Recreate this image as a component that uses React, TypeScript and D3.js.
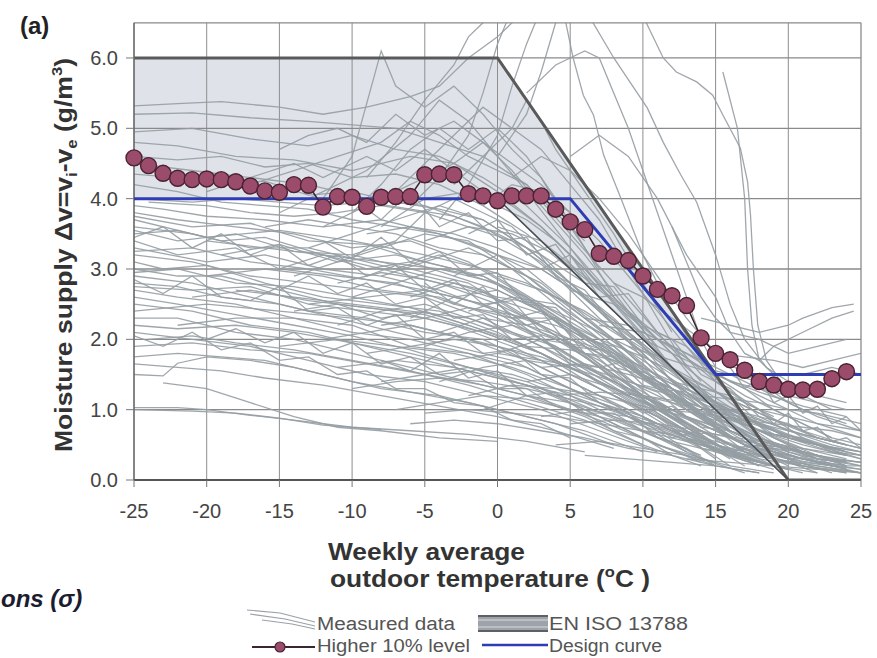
import React from 'react';
import * as d3 from 'd3';

const WIDTH = 877;
const HEIGHT = 658;

const X_TICKS = [-25, -20, -15, -10, -5, 0, 5, 10, 15, 20, 25];
const Y_TICKS = [0, 1, 2, 3, 4, 5, 6];
const Y_TICK_LABELS = ['0.0', '1.0', '2.0', '3.0', '4.0', '5.0', '6.0'];

// Higher 10 % level of the measured moisture supply, per 1 °C bin
const levelTemps = [
  -25, -24, -23, -22, -21, -20, -19, -18, -17, -16, -15, -14, -13, -12, -11, -10, -9, -8, -7, -6,
  -5, -4, -3, -2, -1, 0, 1, 2, 3, 4, 5, 6, 7, 8, 9, 10, 11, 12, 13, 14, 15, 16, 17, 18, 19, 20,
  21, 22, 23, 24,
];
const levelValues = [
  4.58, 4.47, 4.36, 4.29, 4.27, 4.28, 4.27, 4.24, 4.18, 4.11, 4.09, 4.2, 4.19, 3.88, 4.03, 4.02,
  3.89, 4.02, 4.03, 4.03, 4.34, 4.35, 4.34, 4.07, 4.04, 3.97, 4.04, 4.04, 4.04, 3.85, 3.67, 3.56,
  3.22, 3.18, 3.12, 2.9, 2.71, 2.62, 2.48, 2.02, 1.8, 1.71, 1.56, 1.4, 1.35, 1.29, 1.28, 1.29,
  1.44, 1.54,
];

// Design curve
const designTemps = [-25, 5, 15, 25];
const designValues = [4, 4, 1.5, 1.5];

// EN ISO 13788 humidity classes (upper and lower limits of the band)
const isoTemps = [-25, 0, 20, 25];
const isoUpper = [6, 6, 0, 0];
const isoLower = [4, 4, 0, 0];

// Measured weekly data, each row: temperature, moisture supply, temperature, moisture supply, ...
const measured: number[][] = [
  [-25, 3.8, -22, 3.7, -18, 3.6, -14, 3.5, -10, 3.3, -6, 3.4, -2, 3.1, 2, 2.6, 6, 1.9, 10, 1.2, 14, 0.6, 17, 0.3],
  [-25, 3.6, -21, 3.5, -17, 3.3, -13, 3.3, -9, 3.1, -5, 2.9, -1, 2.7, 3, 2.2, 7, 1.6, 11, 1.0, 15, 0.5],
  [-25, 3.4, -22, 3.2, -18, 3.3, -15, 3.0, -11, 2.9, -7, 2.8, -3, 2.5, 1, 2.3, 5, 1.7, 9, 1.2, 13, 0.7, 17, 0.2],
  [-25, 3.2, -21, 3.1, -17, 2.9, -13, 2.8, -9, 2.7, -5, 2.6, -1, 2.3, 3, 1.9, 7, 1.4, 11, 0.9, 15, 0.3],
  [-25, 3.0, -22, 2.9, -19, 2.9, -15, 2.7, -11, 2.5, -7, 2.4, -3, 2.2, 1, 1.9, 5, 1.5, 9, 1.1, 13, 0.6, 16, 0.2],
  [-25, 2.9, -21, 2.8, -17, 2.6, -13, 2.4, -9, 2.3, -5, 2.1, -1, 2.0, 3, 1.6, 7, 1.2, 11, 0.7, 14, 0.3],
  [-25, 2.7, -22, 2.6, -18, 2.5, -14, 2.3, -10, 2.2, -6, 1.9, -2, 1.8, 2, 1.5, 6, 1.1, 10, 0.7, 14, 0.3, 17, 0.1],
  [-25, 2.5, -21, 2.4, -17, 2.2, -13, 2.1, -9, 1.9, -5, 1.7, -1, 1.5, 3, 1.3, 7, 0.9, 11, 0.5, 15, 0.2],
  [-25, 2.3, -22, 2.3, -18, 2.1, -14, 2.0, -10, 1.8, -6, 1.6, -2, 1.4, 2, 1.2, 6, 0.9, 10, 0.5, 14, 0.2],
  [-25, 2.1, -21, 2.0, -17, 1.9, -13, 1.7, -9, 1.5, -5, 1.4, -1, 1.2, 3, 1.0, 7, 0.7, 11, 0.4],
  [-25, 1.75, -22, 1.8, -19, 1.75, -16, 1.7, -13, 1.55, -10, 1.4, -6, 1.25, -2, 1.1, 2, 0.9, 6, 0.7, 10, 0.4],
  [-25, 1.5, -23, 1.48, -22, 1.66, -20, 1.75, -17, 1.7, -14, 1.6, -11, 1.45, -8, 1.3, -4, 1.2, 0, 1.0, 4, 0.8, 8, 0.5],
  [-25, 1.03, -22, 1.03, -20, 1.0, -17, 0.92, -14, 0.85, -10, 0.75, -6, 0.7, -2, 0.65, 2, 0.55, 6, 0.4],
  [-25, 1.0, -21, 0.98, -18, 0.95, -15, 0.88, -12, 0.78, -8, 0.72],
  [-23, 1.38, -20, 1.3, -17, 1.1, -14, 0.9, -11, 0.75, -8, 0.7, -4, 0.6, 0, 0.55],
  [-25, 3.9, -23, 3.85, -20, 3.75, -16, 3.7, -12, 3.6, -8, 3.7, -4, 3.5, 0, 3.2, 4, 2.6, 8, 2.0, 12, 1.3, 16, 0.6],
  [-25, 3.5, -22, 3.55, -19, 3.4, -16, 3.45, -12, 3.2, -8, 3.0, -4, 2.8, 0, 2.5, 4, 2.1, 8, 1.5, 12, 0.9, 16, 0.4],
  [-25, 3.1, -23, 3.0, -20, 3.05, -16, 2.8, -12, 2.6, -8, 2.5, -4, 2.4, 0, 2.1, 4, 1.7, 8, 1.3, 12, 0.8, 16, 0.3],
  [-25, 2.8, -22, 2.75, -19, 2.6, -15, 2.5, -11, 2.3, -7, 2.1, -3, 1.9, 1, 1.7, 5, 1.3, 9, 0.9, 13, 0.4],
  [-25, 2.6, -22, 2.5, -18, 2.35, -14, 2.2, -10, 2.05, -6, 1.85, -2, 1.6, 2, 1.35, 6, 1.0, 10, 0.6, 14, 0.25],
  [-24, 2.0, -21, 2.05, -18, 1.95, -14, 1.85, -10, 1.7, -6, 1.55, -2, 1.35, 2, 1.1, 6, 0.85, 10, 0.5],
  [-25, 4.2, -22, 4.1, -19, 3.95, -16, 3.9, -13, 3.85, -10, 3.7, -7, 3.6, -4, 3.5, -1, 3.3, 2, 3.0, 5, 2.5, 8, 2.0, 11, 1.4, 14, 0.9, 17, 0.4],
  [-25, 4.5, -21, 4.4, -17, 4.3, -13, 4.2, -9, 4.0, -5, 3.9, -1, 3.6, 3, 3.1, 7, 2.4, 11, 1.6, 15, 0.9],
  [-25, 4.8, -22, 4.75, -18, 4.6, -14, 4.55, -10, 4.4, -6, 4.6, -3, 4.5, 0, 4.1, 3, 3.6, 6, 3.0, 9, 2.3, 12, 1.6, 15, 1.0],
  [-25, 5.32, -22, 5.35, -19, 5.38, -15, 5.3, -12, 5.2, -9, 5.3, -6, 5.45, -4, 5.6, -2, 6.0, 0, 6.3, 2, 6.7],
  [-25, 5.2, -21, 5.22, -17, 5.15, -13, 5.1, -10, 5.05, -7, 5.0, -4, 4.8, -1, 4.6, 2, 4.2, 5, 3.5, 8, 2.8, 11, 2.1, 14, 1.4],
  [-15, 3.8, -12, 4.1, -9, 4.4, -6, 4.9, -4, 5.4, -2, 5.1, 0, 4.6, 2, 4.1, 5, 3.3, 8, 2.5, 11, 1.8, 14, 1.1, 17, 0.6, 20, 0.3],
  [-12, 3.6, -9, 3.9, -6, 4.2, -3, 4.5, -1, 4.8, 1, 4.4, 3, 3.9, 6, 3.2, 9, 2.4, 12, 1.6, 15, 1.0, 18, 0.5, 21, 0.2],
  [-14, 2.9, -11, 3.1, -8, 3.3, -5, 3.5, -2, 3.4, 1, 3.0, 4, 2.5, 7, 2.0, 10, 1.5, 13, 1.0, 16, 0.6, 19, 0.3],
  [-10, 2.6, -7, 2.8, -4, 3.0, -1, 2.9, 2, 2.6, 5, 2.2, 8, 1.8, 11, 1.3, 14, 0.9, 17, 0.5, 20, 0.3, 23, 0.1],
  [-11, 2.2, -8, 2.4, -5, 2.5, -2, 2.3, 1, 2.1, 4, 1.9, 7, 1.5, 10, 1.2, 13, 0.8, 16, 0.5, 19, 0.3, 22, 0.15],
  [-9, 1.8, -6, 1.9, -3, 2.0, 0, 1.9, 3, 1.7, 6, 1.4, 9, 1.1, 12, 0.8, 15, 0.5, 18, 0.3, 21, 0.2, 24, 0.1],
  [-8, 1.4, -5, 1.5, -2, 1.6, 1, 1.5, 4, 1.3, 7, 1.1, 10, 0.9, 13, 0.6, 16, 0.4, 19, 0.2, 22, 0.1],
  [-7, 1.0, -4, 1.1, -1, 1.2, 2, 1.15, 5, 1.0, 8, 0.85, 11, 0.6, 14, 0.45, 17, 0.3, 20, 0.15],
  [-6, 0.8, -3, 0.85, 0, 0.8, 3, 0.7, 6, 0.6, 9, 0.45, 12, 0.35, 15, 0.2, 18, 0.1],
  [-13, 3.3, -10, 3.5, -7, 3.7, -4, 3.9, -1, 3.7, 2, 3.3, 5, 2.8, 8, 2.3, 11, 1.7, 14, 1.2, 17, 0.8, 20, 0.4, 23, 0.2],
  [-10, 3.2, -7, 3.4, -5, 3.8, -3, 4.0, -1, 3.8, 1, 3.6, 4, 3.0, 7, 2.4, 10, 1.9, 13, 1.4, 16, 0.9, 19, 0.5, 22, 0.3, 25, 0.2],
  [-8, 2.9, -5, 3.1, -2, 3.3, 0, 3.1, 3, 2.8, 6, 2.3, 9, 1.8, 12, 1.3, 15, 0.9, 18, 0.6, 21, 0.4, 24, 0.25],
  [-6, 2.3, -3, 2.6, 0, 2.7, 3, 2.4, 6, 2.0, 9, 1.6, 12, 1.2, 15, 0.8, 18, 0.5, 21, 0.3, 24, 0.2],
  [-5, 1.9, -2, 2.1, 1, 2.2, 4, 2.0, 7, 1.7, 10, 1.3, 13, 1.0, 16, 0.7, 19, 0.4, 22, 0.25, 25, 0.15],
  [-12, 4.0, -10, 4.6, -8, 6.1, -7, 5.6, -5, 5.3, -3, 5.6, -1, 5.2, 1, 4.7, 3, 4.3, 5, 3.6, 7, 3.0],
  [-9, 4.3, -7, 4.8, -5, 5.4, -3, 5.9, -2, 6.3, -1, 6.5, 0, 6.7],
  [-6, 3.9, -4, 4.3, -2, 4.9, -1, 5.5, 0, 6.2, 1, 6.7],
  [-4, 3.7, -2, 4.2, 0, 4.9, 1, 5.6, 2, 6.2, 3, 6.7],
  [-10, 3.8, -8, 4.2, -6, 4.7, -4, 5.0, -2, 4.7, 0, 5.0, 2, 4.6, 4, 4.0, 6, 3.3, 8, 2.6],
  [-7, 4.1, -5, 4.5, -3, 4.9, -1, 5.3, 1, 5.0, 3, 4.7, 5, 4.2, 7, 3.7, 9, 3.0, 11, 2.3, 13, 1.6],
  [0, 4.6, 2, 5.2, 3, 5.8, 4, 6.5, 4.5, 6.7],
  [4.5, 6.7, 5.2, 6.0, 5.9, 5.47, 6.6, 5.19, 7.3, 4.62, 8.5, 4.0, 10, 3.2, 12, 2.4, 14, 1.7, 16, 1.2, 18, 0.8, 20, 0.6],
  [6, 6.7, 8, 6.0, 9.1, 5.66, 10.3, 5.29, 11.4, 4.8, 12.6, 4.34, 13.7, 3.95, 15, 3.2, 16, 2.5, 17, 2.0, 18.5, 1.6, 20, 1.4, 22, 1.2],
  [10, 6.6, 11.4, 6.0, 12.3, 5.8, 13.7, 5.66, 14.8, 5.47, 15.5, 5.19, 16.7, 4.72, 17.2, 4.24, 17.4, 3.77, 17.6, 3.0, 17.9, 2.2, 18.5, 1.7, 19.5, 1.4, 21, 1.2, 23, 1.0],
  [2, 5.5, 4, 5.9, 6, 6.1, 7, 6.0, 8, 5.5, 9, 5.0, 10, 4.4, 11, 3.8, 12, 3.2, 13, 2.6, 14, 2.0, 15, 1.6],
  [5, 4.6, 7, 4.9, 9, 4.6, 11, 4.0, 13, 3.2, 15, 2.6, 16, 2.1, 17, 1.8, 18, 1.7, 19, 1.9, 21, 2.1, 23, 2.3, 24.5, 2.4],
  [12, 3.6, 13, 3.1, 14, 2.6, 15, 2.3, 16, 2.1, 18, 2.0, 20, 1.8, 22, 1.9, 24, 2.0],
  [14, 2.3, 16, 2.2, 18, 2.1, 20, 2.2, 21, 2.3, 23, 2.45, 24.5, 2.5],
  [15.5, 5.8, 16.5, 5.0, 17, 4.0, 17.2, 3.0, 17.5, 2.2, 18, 1.7, 19, 1.5, 21, 1.5, 23, 1.6, 25, 1.5],
  [10, 2.0, 12, 1.8, 14, 1.6, 16, 1.5, 18, 1.4, 20, 1.3, 22, 1.2, 24, 1.1],
  [12, 1.4, 14, 1.3, 16, 1.2, 18, 1.0, 20, 0.9, 22, 0.8, 25, 0.7],
  [8, 1.6, 10, 1.5, 12, 1.3, 14, 1.1, 16, 0.9, 18, 0.7, 20, 0.6, 22, 0.5, 25, 0.4],
  [15, 1.8, 17, 1.75, 19, 1.7, 21, 1.6, 23, 1.7, 25, 1.8],
  [16, 1.0, 18, 0.9, 20, 0.8, 22, 0.6, 24, 0.5],
  [18, 0.7, 20, 0.6, 22, 0.5, 24, 0.35],
  [-25, 3.3, -20, 3.1, -16, 3.2, -12, 3.0, -8, 2.9, -4, 2.7, 0, 2.4, 4, 2.0, 8, 1.5, 12, 1.0, 16, 0.5, 19, 0.2],
  [-25, 2.4, -20, 2.5, -15, 2.4, -10, 2.3, -6, 2.2, -2, 2.0, 2, 1.7, 6, 1.3, 10, 0.9, 14, 0.5, 18, 0.2],
  [-20, 3.4, -16, 3.3, -12, 3.2, -8, 3.1, -4, 3.0, 0, 2.8, 4, 2.3, 8, 1.8, 12, 1.2, 16, 0.7, 20, 0.3],
  [-18, 2.7, -14, 2.6, -10, 2.5, -6, 2.4, -2, 2.3, 2, 2.0, 6, 1.6, 10, 1.2, 14, 0.8, 18, 0.4, 22, 0.1],
  [-22, 2.2, -18, 2.3, -14, 2.3, -10, 2.1, -6, 2.0, -2, 1.8, 2, 1.6, 6, 1.2, 10, 0.8, 14, 0.5, 18, 0.25],
  [-15, 1.9, -11, 2.0, -7, 1.9, -3, 1.8, 1, 1.6, 5, 1.3, 9, 1.0, 13, 0.6, 17, 0.3, 21, 0.1],
  [-25, 3.7, -20, 3.45, -15, 3.55, -10, 3.4, -5, 3.2, -1, 3.0, 3, 2.5, 7, 2.0, 11, 1.4, 15, 0.8, 19, 0.3],
  [-5, 3.4, -2, 3.6, 1, 3.5, 4, 3.2, 7, 2.7, 10, 2.2, 13, 1.6, 16, 1.1, 19, 0.6, 22, 0.3],
  [-3, 2.9, 0, 3.2, 3, 3.0, 6, 2.6, 9, 2.1, 12, 1.6, 15, 1.1, 18, 0.7, 21, 0.4, 24, 0.2],
  [-2, 2.4, 1, 2.6, 4, 2.5, 7, 2.1, 10, 1.7, 13, 1.3, 16, 0.9, 19, 0.6, 22, 0.35, 25, 0.2],
  [0, 1.8, 3, 2.0, 6, 1.9, 9, 1.6, 12, 1.3, 15, 0.9, 18, 0.6, 21, 0.4, 24, 0.25],
  [2, 1.4, 5, 1.5, 8, 1.3, 11, 1.1, 14, 0.8, 17, 0.5, 20, 0.35, 23, 0.2],
  [3, 0.9, 6, 1.0, 9, 0.9, 12, 0.7, 15, 0.5, 18, 0.35, 21, 0.2, 24, 0.1],
  [-4, 1.4, -1, 1.6, 2, 1.7, 5, 1.6, 8, 1.4, 11, 1.1, 14, 0.8, 17, 0.5, 20, 0.3],
  [-20, 2.9, -16, 3.0, -12, 2.9, -8, 2.7, -4, 2.6, 0, 2.3, 4, 1.9, 8, 1.4, 12, 0.9, 16, 0.5],
  [-16, 3.6, -13, 3.7, -10, 3.6, -7, 3.5, -4, 3.3, -1, 3.2, 2, 2.9, 5, 2.4, 8, 1.9, 11, 1.4, 14, 0.9, 17, 0.5, 20, 0.2],
  [-19, 3.2, -15, 3.35, -11, 3.1, -7, 3.2, -3, 3.0, 1, 2.7, 5, 2.2, 9, 1.6, 13, 1.0, 17, 0.5],
  [-13, 2.5, -9, 2.6, -5, 2.7, -1, 2.5, 3, 2.2, 7, 1.8, 11, 1.3, 15, 0.8, 19, 0.4, 23, 0.2],
  [-21, 2.6, -17, 2.7, -13, 2.55, -9, 2.45, -5, 2.35, -1, 2.1, 3, 1.8, 7, 1.4, 11, 1.0, 15, 0.6, 19, 0.3],
  [-11, 1.6, -7, 1.7, -3, 1.6, 1, 1.4, 5, 1.2, 9, 0.9, 13, 0.6, 17, 0.4, 21, 0.2, 25, 0.1],
  [-24, 3.95, -20, 3.9, -17, 3.8, -14, 3.75, -11, 3.8, -8, 3.9, -5, 3.8, -2, 3.6, 1, 3.4, 4, 2.9, 7, 2.3, 10, 1.8, 13, 1.2, 16, 0.7],
  [-8, 3.6, -5, 4.0, -2, 4.1, 0, 3.9, 2, 3.7, 4, 3.4, 6, 3.0, 8, 2.6, 10, 2.2, 12, 1.8, 14, 1.3, 16, 0.9, 18, 0.6, 20, 0.4],
  [0, 3.6, 3, 3.4, 6, 2.9, 9, 2.4, 12, 1.9, 15, 1.4, 18, 1.0, 21, 0.6, 24, 0.4],
  [5, 2.7, 8, 2.5, 11, 2.0, 14, 1.6, 17, 1.2, 20, 0.9, 23, 0.6, 25, 0.5],
  [7, 2.2, 10, 2.1, 13, 1.8, 16, 1.4, 19, 1.1, 22, 0.8, 25, 0.6],
  [10, 1.2, 13, 1.1, 16, 0.9, 19, 0.7, 22, 0.5, 25, 0.3],
  [-1, 1.0, 2, 1.2, 5, 1.1, 8, 0.9, 11, 0.7, 14, 0.5, 17, 0.3, 20, 0.15],
  [4, 0.5, 7, 0.55, 10, 0.45, 13, 0.35, 16, 0.2, 19, 0.1],
  [-25, 4.0, -21, 3.95, -18, 4.0, -15, 3.95, -12, 3.9, -9, 3.95, -6, 3.85, -3, 3.75, 0, 3.5, 3, 3.2, 6, 2.8, 9, 2.2, 12, 1.6, 15, 1.0],
  [-17, 4.2, -14, 4.4, -11, 4.6, -8, 4.8, -6, 5.1, -4, 4.9, -2, 4.6, 0, 4.4, 2, 4.2, 4, 3.8, 6, 3.4],
  [-25, 3.75, -21, 3.6, -17, 3.65, -13, 3.4, -9, 3.35, -5, 3.1, -1, 2.9, 3, 2.4, 7, 1.8, 11, 1.1, 15, 0.5, 18, 0.2],
  [-25, 3.55, -22, 3.4, -18, 3.5, -14, 3.25, -10, 3.2, -6, 3.0, -2, 2.8, 2, 2.3, 6, 1.8, 10, 1.2, 14, 0.7, 18, 0.3],
  [-25, 3.25, -21, 3.3, -17, 3.1, -13, 3.0, -9, 2.85, -5, 2.7, -1, 2.5, 3, 2.0, 7, 1.5, 11, 1.0, 15, 0.5, 19, 0.2],
  [-25, 2.95, -22, 3.0, -18, 2.8, -14, 2.75, -10, 2.6, -6, 2.45, -2, 2.2, 2, 1.9, 6, 1.5, 10, 1.0, 14, 0.6, 18, 0.25],
  [-25, 2.75, -21, 2.7, -17, 2.75, -13, 2.5, -9, 2.4, -5, 2.3, -1, 2.1, 3, 1.8, 7, 1.3, 11, 0.9, 15, 0.4, 19, 0.15],
  [-25, 2.2, -22, 2.15, -18, 2.2, -14, 2.1, -10, 1.95, -6, 1.8, -2, 1.6, 2, 1.4, 6, 1.05, 10, 0.7, 14, 0.35],
  [-25, 1.9, -21, 1.95, -17, 1.85, -13, 1.8, -9, 1.65, -5, 1.5, -1, 1.35, 3, 1.15, 7, 0.85, 11, 0.5, 15, 0.25],
  [-25, 1.65, -22, 1.6, -19, 1.55, -16, 1.45, -12, 1.35, -8, 1.2, -4, 1.05, 0, 0.9, 4, 0.7, 8, 0.45],
  [-25, 4.35, -22, 4.3, -19, 4.2, -16, 4.25, -13, 4.05, -10, 4.1, -7, 3.95, -4, 3.85, -1, 3.7, 2, 3.3, 5, 2.8, 8, 2.2, 11, 1.5, 14, 0.9],
  [-25, 4.6, -22, 4.55, -19, 4.6, -16, 4.45, -13, 4.5, -10, 4.3, -7, 4.35, -4, 4.2, -1, 3.9, 2, 3.5, 5, 3.0, 8, 2.4],
  [-25, 4.95, -21, 5.0, -17, 4.85, -13, 4.75, -10, 4.9, -7, 4.7, -4, 4.6, -1, 4.3, 2, 3.9, 5, 3.3, 8, 2.6, 11, 1.9],
  [-15, 3.0, -12, 3.2, -9, 3.0, -6, 3.1, -3, 2.9, 0, 2.7, 3, 2.4, 6, 2.0, 9, 1.6, 12, 1.2, 15, 0.8, 18, 0.5, 21, 0.3, 24, 0.15],
  [-14, 2.4, -11, 2.5, -8, 2.3, -5, 2.4, -2, 2.2, 1, 2.0, 4, 1.7, 7, 1.4, 10, 1.1, 13, 0.8, 16, 0.5, 19, 0.3, 22, 0.2, 25, 0.1],
  [-12, 2.0, -9, 2.1, -6, 2.2, -3, 2.05, 0, 1.9, 3, 1.75, 6, 1.5, 9, 1.2, 12, 0.95, 15, 0.7, 18, 0.45, 21, 0.3, 24, 0.2],
  [-10, 1.3, -7, 1.4, -4, 1.45, -1, 1.4, 2, 1.3, 5, 1.15, 8, 1.0, 11, 0.8, 14, 0.6, 17, 0.45, 20, 0.3, 23, 0.2, 25, 0.15],
  [-9, 3.5, -6, 3.6, -3, 3.5, 0, 3.3, 3, 3.0, 6, 2.6, 9, 2.1, 12, 1.6, 15, 1.1, 18, 0.7, 21, 0.45, 24, 0.3],
  [-7, 3.0, -4, 3.2, -1, 3.0, 2, 2.8, 5, 2.5, 8, 2.1, 11, 1.7, 14, 1.3, 17, 0.9, 20, 0.6, 23, 0.4, 25, 0.3],
  [-6, 2.6, -3, 2.8, 0, 2.6, 3, 2.5, 6, 2.2, 9, 1.9, 12, 1.5, 15, 1.1, 18, 0.8, 21, 0.55, 24, 0.4],
  [-4, 2.1, -1, 2.3, 2, 2.2, 5, 2.0, 8, 1.8, 11, 1.5, 14, 1.2, 17, 0.9, 20, 0.65, 23, 0.45, 25, 0.35],
  [-3, 1.7, 0, 1.8, 3, 1.7, 6, 1.6, 9, 1.4, 12, 1.2, 15, 0.95, 18, 0.7, 21, 0.5, 24, 0.35],
  [-2, 1.2, 1, 1.35, 4, 1.3, 7, 1.2, 10, 1.05, 13, 0.9, 16, 0.7, 19, 0.5, 22, 0.35, 25, 0.25],
  [-5, 0.95, -2, 1.0, 1, 0.95, 4, 0.9, 7, 0.8, 10, 0.7, 13, 0.55, 16, 0.4, 19, 0.3, 22, 0.2, 25, 0.1],
  [-8, 2.2, -5, 2.3, -2, 2.45, 1, 2.35, 4, 2.2, 7, 1.95, 10, 1.6, 13, 1.25, 16, 0.95, 19, 0.7, 22, 0.5, 25, 0.4],
  [-11, 2.8, -8, 2.95, -5, 2.85, -2, 2.7, 1, 2.5, 4, 2.3, 7, 1.9, 10, 1.5, 13, 1.1, 16, 0.75, 19, 0.45, 22, 0.3],
  [0, 2.9, 3, 2.7, 6, 2.4, 9, 2.0, 12, 1.6, 15, 1.25, 18, 0.95, 21, 0.7, 24, 0.5],
  [1, 2.3, 4, 2.3, 7, 2.0, 10, 1.75, 13, 1.45, 16, 1.15, 19, 0.85, 22, 0.6, 25, 0.45],
  [2, 1.9, 5, 1.85, 8, 1.7, 11, 1.45, 14, 1.2, 17, 0.95, 20, 0.7, 23, 0.5, 25, 0.4],
  [3, 1.6, 6, 1.65, 9, 1.5, 12, 1.3, 15, 1.05, 18, 0.85, 21, 0.65, 24, 0.5],
  [4, 1.2, 7, 1.25, 10, 1.2, 13, 1.05, 16, 0.85, 19, 0.65, 22, 0.5, 25, 0.35],
  [5, 0.8, 8, 0.85, 11, 0.8, 14, 0.7, 17, 0.55, 20, 0.45, 23, 0.3, 25, 0.25],
  [6, 2.3, 9, 2.2, 12, 1.9, 15, 1.6, 18, 1.3, 21, 1.0, 24, 0.8],
  [8, 2.8, 10, 2.6, 12, 2.3, 14, 2.0, 16, 1.7, 18, 1.4, 20, 1.1, 22, 0.9, 25, 0.7],
  [9, 1.9, 12, 1.7, 15, 1.5, 18, 1.25, 21, 1.05, 24, 0.9],
  [11, 1.0, 14, 0.95, 17, 0.85, 20, 0.7, 23, 0.55, 25, 0.45],
  [12, 0.7, 15, 0.65, 18, 0.55, 21, 0.45, 24, 0.35],
  [14, 1.2, 16, 1.15, 18, 1.1, 20, 1.0, 22, 0.95, 24, 0.85, 25, 0.8],
  [15, 0.9, 17, 0.85, 19, 0.8, 21, 0.75, 23, 0.7, 25, 0.6],
  [16, 1.4, 18, 1.3, 20, 1.2, 22, 1.1, 24, 1.0],
  [17, 0.5, 19, 0.45, 21, 0.4, 23, 0.3, 25, 0.25],
  [13, 0.3, 16, 0.25, 19, 0.2, 22, 0.15, 25, 0.1],
  [6, 0.35, 9, 0.3, 12, 0.25, 15, 0.2, 18, 0.1],
  [-20, 4.1, -17, 4.3, -14, 4.5, -12, 4.3, -9, 4.6, -7, 4.4, -5, 4.7, -3, 4.4, -1, 4.1, 1, 3.9, 3, 3.6, 5, 3.2, 7, 2.7],
  [-15, 4.7, -13, 4.9, -11, 5.0, -9, 4.8, -7, 5.2, -5, 4.9, -3, 5.1, -1, 4.8, 1, 4.5, 3, 4.2, 5, 3.8],
  [-3, 4.2, -1, 4.6, 1, 5.0, 2, 5.4, 3, 5.1, 4, 4.7, 6, 4.1, 8, 3.5, 10, 2.8, 12, 2.1],
  [1, 4.3, 3, 4.6, 5, 4.4, 7, 4.0, 9, 3.5, 11, 2.9, 13, 2.3, 15, 1.8, 17, 1.5, 19, 1.3, 21, 1.2],
  [-1, 3.9, 1, 4.2, 3, 4.1, 5, 3.8, 7, 3.4, 9, 2.9, 11, 2.4, 13, 1.9, 15, 1.4, 17, 1.1, 19, 0.9],
  [-25, 3.45, -23, 3.6, -21, 3.3, -19, 3.5, -17, 3.2, -15, 3.35, -13, 3.05, -11, 3.2, -9, 2.9, -7, 3.05, -5, 2.7, -3, 2.85, -1, 2.5, 1, 2.55, 3, 2.1, 5, 1.95, 7, 1.6, 9, 1.35, 11, 0.95, 13, 0.7, 15, 0.4],
  [-25, 2.85, -23, 2.65, -21, 2.9, -19, 2.6, -17, 2.55, -15, 2.75, -13, 2.4, -11, 2.45, -9, 2.2, -7, 2.35, -5, 2.0, -3, 2.1, -1, 1.8, 1, 1.85, 3, 1.5, 5, 1.45, 7, 1.1, 9, 0.95, 11, 0.6, 13, 0.45, 15, 0.2],
  [-20, 2.0, -18, 2.15, -16, 1.95, -14, 2.1, -12, 1.8, -10, 1.95, -8, 1.65, -6, 1.75, -4, 1.5, -2, 1.55, 0, 1.3, 2, 1.3, 4, 1.05, 6, 0.95, 8, 0.7, 10, 0.6, 12, 0.35],
  [-10, 4.0, -8, 3.7, -6, 4.1, -4, 3.6, -2, 3.8, 0, 3.4, 2, 3.45, 4, 2.9, 6, 2.7, 8, 2.2, 10, 1.9, 12, 1.4, 14, 1.1, 16, 0.7, 18, 0.5, 20, 0.3],
  [-5, 2.8, -3, 2.5, -1, 2.75, 1, 2.3, 3, 2.4, 5, 1.9, 7, 1.85, 9, 1.4, 11, 1.25, 13, 0.9, 15, 0.75, 17, 0.5, 19, 0.4, 21, 0.25, 23, 0.2, 25, 0.1],
  [0, 2.5, 2, 2.2, 4, 2.3, 6, 1.8, 8, 1.75, 10, 1.35, 12, 1.25, 14, 0.9, 16, 0.8, 18, 0.55, 20, 0.45, 22, 0.3, 24, 0.25],
  [5, 1.9, 7, 1.6, 9, 1.7, 11, 1.3, 13, 1.25, 15, 0.95, 17, 0.9, 19, 0.65, 21, 0.6, 23, 0.4, 25, 0.35],
  [8, 1.2, 10, 0.95, 12, 1.05, 14, 0.75, 16, 0.7, 18, 0.5, 20, 0.45, 22, 0.3, 24, 0.25],
  [10, 0.9, 12, 0.6, 14, 0.7, 16, 0.45, 18, 0.5, 20, 0.3, 22, 0.3, 24, 0.15],
  [14, 0.6, 16, 0.4, 18, 0.5, 20, 0.3, 22, 0.35, 24, 0.2, 25, 0.2],
  [16, 1.6, 17, 1.3, 18, 1.45, 19, 1.1, 20, 1.2, 21, 0.95, 22, 1.05, 23, 0.8, 24, 0.9, 25, 0.7],
  [18, 1.0, 19, 0.8, 20, 0.95, 21, 0.7, 22, 0.75, 23, 0.55, 24, 0.6, 25, 0.45],
  [-15, 2.7, -13, 2.9, -11, 2.65, -9, 2.8, -7, 2.5, -5, 2.6, -3, 2.3, -1, 2.35, 1, 2.0, 3, 2.05, 5, 1.65, 7, 1.6, 9, 1.25, 11, 1.1, 13, 0.8, 15, 0.6, 17, 0.4, 19, 0.3],
  [-8, 1.7, -6, 1.55, -4, 1.8, -2, 1.45, 0, 1.55, 2, 1.2, 4, 1.25, 6, 0.95, 8, 0.95, 10, 0.7, 12, 0.65, 14, 0.45, 16, 0.4, 18, 0.25],
  [-2, 3.5, 0, 3.7, 2, 3.2, 4, 3.35, 6, 2.8, 8, 2.75, 10, 2.2, 12, 2.0, 14, 1.5, 16, 1.3, 18, 0.9, 20, 0.7],
  [3, 3.0, 5, 3.2, 7, 2.6, 9, 2.65, 11, 2.1, 13, 1.9, 15, 1.5, 17, 1.3, 19, 1.0, 21, 0.8, 23, 0.6],
  [-25, 2.05, -23, 1.9, -21, 2.1, -19, 1.85, -17, 1.95, -15, 1.7, -13, 1.75, -11, 1.5, -9, 1.55, -7, 1.3, -5, 1.3, -3, 1.1, -1, 1.05, 1, 0.85, 3, 0.8, 5, 0.6],
  [-12, 3.4, -10, 3.15, -8, 3.45, -6, 3.1, -4, 3.25, -2, 2.9, 0, 2.95, 2, 2.5, 4, 2.45, 6, 2.0, 8, 1.9, 10, 1.5, 12, 1.3, 14, 0.95, 16, 0.8, 18, 0.5],
];

const FONT = 'Liberation Sans, Arial, Helvetica, sans-serif';

export default function App() {
  const x = d3.scaleLinear().domain([-25, 25]).range([134, 861]);
  const y = d3.scaleLinear().domain([0, 6.5]).range([480, 22.8]);
  const [x0, x1] = x.range();
  const [yb, yt] = y.range();

  const toPairs = (row: number[]) => {
    const pts: [number, number][] = [];
    for (let i = 0; i < row.length; i += 2) pts.push([row[i], row[i + 1]]);
    return pts;
  };
  const line = d3
    .line<[number, number]>()
    .x((d) => x(d[0]))
    .y((d) => y(d[1]));

  const band = d3
    .area<number>()
    .x((_, i) => x(isoTemps[i]))
    .y0((_, i) => y(isoLower[i]))
    .y1((_, i) => y(isoUpper[i]));

  const levelPts = levelTemps.map((t, i) => [t, levelValues[i]] as [number, number]);
  const designPts = designTemps.map((t, i) => [t, designValues[i]] as [number, number]);
  const upperPts = isoTemps.map((t, i) => [t, isoUpper[i]] as [number, number]);
  const lowerPts = isoTemps.map((t, i) => [t, isoLower[i]] as [number, number]);

  return (
    <svg
      width={WIDTH}
      height={HEIGHT}
      viewBox={`0 0 ${WIDTH} ${HEIGHT}`}
      style={{ position: 'absolute', left: 0, top: 0, background: '#fff' }}
      fontFamily={FONT}
    >
      <defs>
        <clipPath id="plot-clip">
          <rect x={x0} y={yt} width={x1 - x0} height={yb - yt} />
        </clipPath>
      </defs>

      {/* EN ISO 13788 band */}
      <path d={band(isoTemps) ?? ''} fill="#dfe3e9" />

      {/* grid */}
      {X_TICKS.slice(1, -1).map((t) => (
        <line key={`gx${t}`} x1={x(t)} x2={x(t)} y1={yt} y2={yb} stroke="#8e8e8e" strokeWidth={1} />
      ))}
      {Y_TICKS.slice(1).map((t) => (
        <line key={`gy${t}`} x1={x0} x2={x1} y1={y(t)} y2={y(t)} stroke="#8a8a8a" strokeWidth={1.3} />
      ))}

      {/* measured data */}
      <g clipPath="url(#plot-clip)" fill="none" stroke="#959da3" strokeWidth={1.3} strokeOpacity={0.9}>
        {measured.map((row, i) => (
          <path key={i} d={line(toPairs(row)) ?? ''} />
        ))}
      </g>

      {/* EN ISO 13788 limits */}
      <g clipPath="url(#plot-clip)" fill="none">
        <path d={line(upperPts) ?? ''} stroke="#5a5a5a" strokeWidth={3} />
        <path d={line(lowerPts.slice(1)) ?? ''} stroke="#4a4f55" strokeWidth={1.6} />
      </g>

      {/* frame */}
      <line x1={x0} x2={x1} y1={yt} y2={yt} stroke="#8a8a8a" strokeWidth={1.3} />
      <line x1={x1} x2={x1} y1={yt} y2={yb} stroke="#8a8a8a" strokeWidth={1.3} />
      <line x1={x0} x2={x0} y1={yt} y2={yb} stroke="#666" strokeWidth={1.6} />
      <line x1={x0} x2={x1} y1={yb} y2={yb} stroke="#555" strokeWidth={2} />

      {/* design curve */}
      <path d={line(designPts) ?? ''} fill="none" stroke="#2f3db4" strokeWidth={3} />

      {/* higher 10 % level */}
      <path d={line(levelPts) ?? ''} fill="none" stroke="#3a2530" strokeWidth={1.5} />
      {levelPts.map((p, i) => (
        <circle key={i} cx={x(p[0])} cy={y(p[1])} r={8} fill="#9c4c6b" stroke="#4a2233" strokeWidth={1.4} />
      ))}

      {/* axes ticks and labels */}
      {X_TICKS.map((t) => (
        <g key={`xt${t}`}>
          <line x1={x(t)} x2={x(t)} y1={yb} y2={yb + 7} stroke="#777" strokeWidth={1} />
          <text x={x(t)} y={518} textAnchor="middle" fontSize={20} fill="#444">
            {t}
          </text>
        </g>
      ))}
      {Y_TICKS.map((t, i) => (
        <g key={`yt${t}`}>
          <line x1={x0 - 8} x2={x0} y1={y(t)} y2={y(t)} stroke="#777" strokeWidth={1} />
          <text x={118} y={y(t) + 7} textAnchor="end" fontSize={20} fill="#444">
            {Y_TICK_LABELS[i]}
          </text>
        </g>
      ))}

      {/* panel tag */}
      <text x={20} y={34} fontSize={24} fontWeight="bold" fill="#222">
        (a)
      </text>

      {/* y axis title */}
      <text
        transform="translate(72, 255) rotate(-90)"
        textAnchor="middle"
        fontSize={24}
        fontWeight="bold"
        fill="#333"
        textLength={394}
        lengthAdjust="spacingAndGlyphs"
      >
        Moisture supply Δv=v<tspan fontSize={15} dy={5}>i</tspan>
        <tspan dy={-5}>-v</tspan>
        <tspan fontSize={15} dy={5}>e</tspan>
        <tspan dy={-5}> (g/m</tspan>
        <tspan fontSize={15} dy={-10}>3</tspan>
        <tspan dy={10}>)</tspan>
      </text>

      {/* x axis title */}
      <text x={328} y={560} fontSize={24} fontWeight="bold" fill="#333" textLength={197} lengthAdjust="spacingAndGlyphs">
        Weekly average
      </text>
      <text x={330} y={587} fontSize={24} fontWeight="bold" fill="#333" textLength={320} lengthAdjust="spacingAndGlyphs">
        outdoor temperature (<tspan fontSize={15} dy={-10}>o</tspan>
        <tspan dy={10}>C )</tspan>
      </text>

      {/* fragment of neighbouring caption */}
      <text x={1} y={607} fontSize={24} fontWeight="bold" fontStyle="italic" fill="#1c1c30">
        ons (σ)
      </text>

      {/* legend */}
      <g fill="none" stroke="#9aa1a6" strokeWidth={1.1}>
        <path d="M247,610 L280,613 L315,622" />
        <path d="M250,614 L285,619 L315,626" />
        <path d="M262,620 L292,624 L315,629" />
      </g>
      <text x={317} y={630} fontSize={18} fill="#555" textLength={138} lengthAdjust="spacingAndGlyphs">
        Measured data
      </text>
      <rect x={478} y={615} width={70} height={17} fill="#9da3a8" />
      <line x1={478} x2={548} y1={616} y2={616} stroke="#5d6166" strokeWidth={2} />
      <line x1={478} x2={548} y1={620} y2={620} stroke="#c5c9cd" strokeWidth={1.5} />
      <line x1={478} x2={548} y1={627} y2={627} stroke="#c5c9cd" strokeWidth={1.5} />
      <line x1={478} x2={548} y1={631} y2={631} stroke="#5d6166" strokeWidth={2} />
      <text x={549} y={630} fontSize={18} fill="#555" textLength={139} lengthAdjust="spacingAndGlyphs">
        EN ISO 13788
      </text>

      <line x1={252} x2={315} y1={647} y2={647} stroke="#3a2530" strokeWidth={2} />
      <circle cx={280} cy={647} r={5} fill="#9c4c6b" stroke="#4a2233" strokeWidth={1.2} />
      <text x={317} y={652} fontSize={18} fill="#555" textLength={153} lengthAdjust="spacingAndGlyphs">
        Higher 10% level
      </text>
      <line x1={482} x2={548} y1={645} y2={645} stroke="#2f3db4" strokeWidth={2.5} />
      <text x={549} y={652} fontSize={18} fill="#555" textLength={113} lengthAdjust="spacingAndGlyphs">
        Design curve
      </text>
    </svg>
  );
}
